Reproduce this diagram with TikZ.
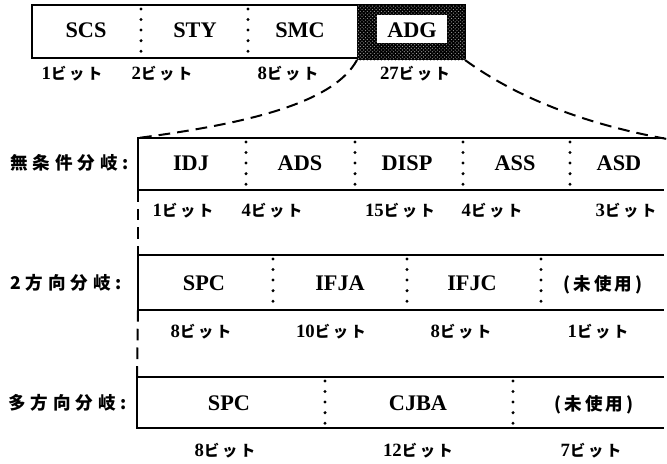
\documentclass[tikz,border=0pt]{standalone}
\usepackage{fontspec}
\setmainfont{Liberation Serif}
\newfontfamily\jpfont[LetterSpace=18]{Noto Sans CJK JP}
\newfontfamily\jplblfont[LetterSpace=28]{Noto Sans CJK JP}
\usetikzlibrary{patterns}

\newcommand{\bitlbl}[1]{{\bfseries\fontsize{16}{16}\selectfont #1}{\jpfont\bfseries\fontsize{13}{13}\selectfont ビット}}

\begin{document}
\begin{tikzpicture}[x=0.03cm, y=-0.03cm,
    fld/.style={font=\bfseries\fontsize{19}{19}\selectfont},
    jfld/.style={font=\jpfont\bfseries\fontsize{15}{15}\selectfont},
    rowlbl/.style={font=\jplblfont\bfseries\fontsize{15}{15}\selectfont, anchor=west, inner sep=0pt},
    frame/.style={line width=1.4pt},
    sep/.style={line width=2.8pt, line cap=round, dash pattern=on 0pt off 9pt},
    link/.style={line width=1.7pt, dash pattern=on 10pt off 6pt}]
  \useasboundingbox (0,0) rectangle (667,463);
  % instruction word
  \draw[frame] (32,5) rectangle (465,58);
  \fill[black] (357,5) rectangle (465,60);
  \fill[pattern=crosshatch dots, pattern color=gray!70] (357,5) rectangle (465,60);
  \fill[white] (377,15) rectangle (447,43);
  \draw[sep] (141,9) -- (141,56);
  \draw[sep] (248,9) -- (248,56);
  \node[fld] (scs) at (86,30) {SCS};
  \node[fld] (sty) at (195,30) {STY};
  \node[fld] (smc) at (300,30) {SMC};
  \node[fld] (adg) at (412,30) {ADG};
  \node (b1) at (72,74) {\bitlbl{1}};
  \node (b2) at (162,74) {\bitlbl{2}};
  \node (b8) at (288,74) {\bitlbl{8}};
  \node (b27) at (415,74) {\bitlbl{27}};
  \coordinate (adgSW) at (357,60);
  \coordinate (adgSE) at (465,60);
  % unconditional branch
  \node[rowlbl] (ub) at (10,163) {無条件分岐:};
  \draw[frame] (664,138) -- (138,138) -- (138,190) -- (664,190);
  \coordinate (ubNW) at (138,138);
  \coordinate (ubNE) at (667,139);
  \coordinate (ubSW) at (138,190);
  \foreach \xx in {246,355,463,570} \draw[sep] (\xx,142) -- (\xx,188);
  \node[fld] (idj) at (191,163) {IDJ};
  \node[fld] (ads) at (300,163) {ADS};
  \node[fld] (disp) at (407,163) {DISP};
  \node[fld] (ass) at (515,163) {ASS};
  \node[fld] (asd) at (619,163) {ASD};
  \node (u1) at (183,211) {\bitlbl{1}};
  \node (u4) at (272,211) {\bitlbl{4}};
  \node (u15) at (400,211) {\bitlbl{15}};
  \node (u4b) at (492,211) {\bitlbl{4}};
  \node (u3) at (626,211) {\bitlbl{3}};
  % two-way branch
  \node[rowlbl] (tw) at (10,283) {2方向分岐:};
  \draw[frame] (664,255) -- (138,255) -- (138,310) -- (664,310);
  \coordinate (twNW) at (138,255);
  \coordinate (twSW) at (138,310);
  \foreach \xx in {273,407,541} \draw[sep] (\xx,259) -- (\xx,308);
  \node[fld] (spc) at (204,283) {SPC};
  \node[fld] (ifja) at (340,283) {IFJA};
  \node[fld] (ifjc) at (472,283) {IFJC};
  \node[jfld] (nu) at (603,285) {(未使用)};
  \node (t8) at (201,332) {\bitlbl{8}};
  \node (t10) at (331,332) {\bitlbl{10}};
  \node (t8b) at (461,332) {\bitlbl{8}};
  \node (t1) at (598,332) {\bitlbl{1}};
  % multi-way branch
  \node[rowlbl] (mw) at (8,403) {多方向分岐:};
  \draw[frame] (664,377) -- (137,377) -- (137,428) -- (664,428);
  \coordinate (mwNW) at (137,377);
  \foreach \xx in {325,513} \draw[sep] (\xx,381) -- (\xx,426);
  \node[fld] (spc2) at (229,403) {SPC};
  \node[fld] (cjba) at (418,403) {CJBA};
  \node[jfld] (nu2) at (594,405) {(未使用)};
  \node (m8) at (225,451) {\bitlbl{8}};
  \node (m12) at (418,451) {\bitlbl{12}};
  \node (m7) at (591,451) {\bitlbl{7}};
  % expansion of ADG
  \draw[link] (adgSW) .. controls (335,100) and (260,122) .. (ubNW);
  \draw[link] (adgSE) .. controls (520,100) and (590,125) .. (ubNE);
  \draw[link] (ubSW) -- (twNW);
  \draw[link] (twSW) -- (mwNW);
\end{tikzpicture}
\end{document}
